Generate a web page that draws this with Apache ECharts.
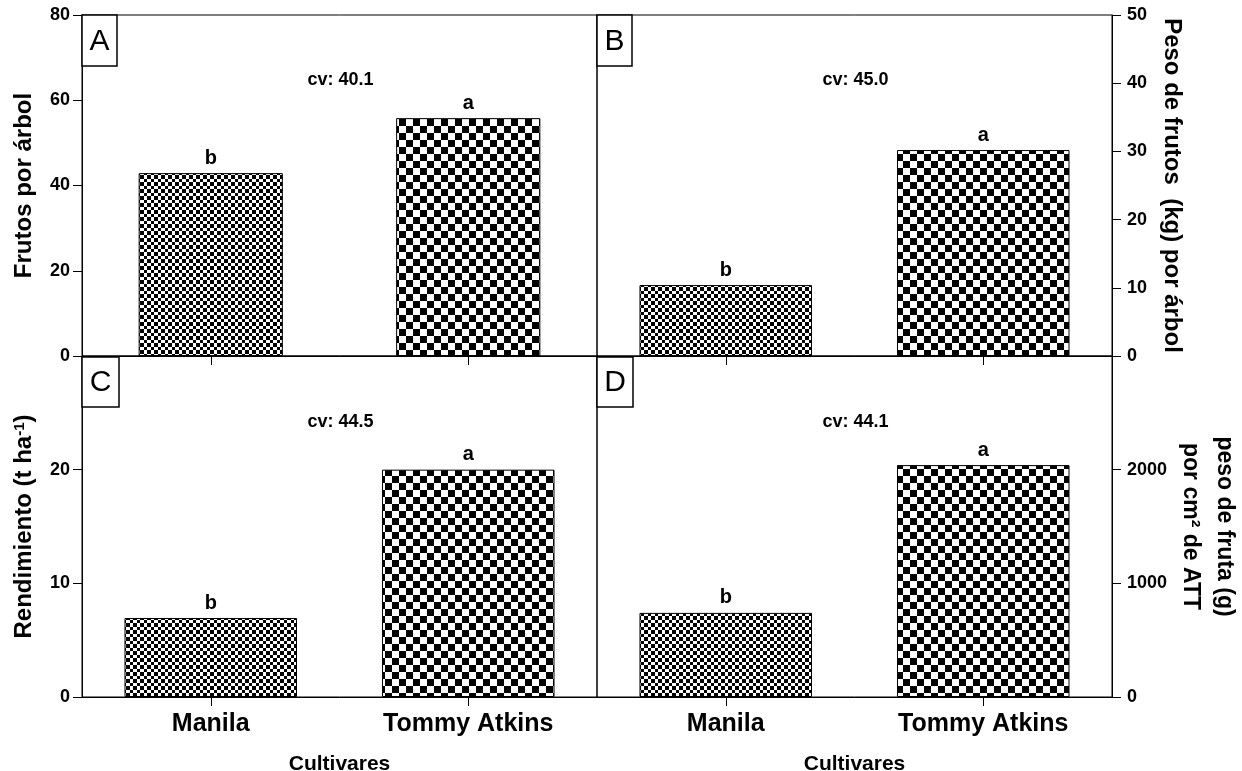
<!DOCTYPE html>
<html>
<head>
<meta charset="utf-8">
<title>Cultivares de mango</title>
<script src="https://cdn.jsdelivr.net/npm/echarts@6/dist/echarts.min.js"></script>
<style>
  html, body { margin: 0; padding: 0; background: #fff; }
  #chart { width: 1242px; height: 771px; }
</style>
</head>
<body>
<div id="chart"></div>
<script>
// Data
const categories = ['Manila', 'Tommy Atkins'];
const frutosPorArbol = [42.9, 55.8];
const pesoFrutosKg = [10.4, 30.2];
const rendimiento = [6.95, 20.0];
const pesoPorCm2 = [740, 2040];
const letras = ['b', 'a'];
const cvA = 'cv: 40.1', cvB = 'cv: 45.0', cvC = 'cv: 44.5', cvD = 'cv: 44.1';

const FONT = 'Arial, "Liberation Sans", Helvetica, sans-serif';

// Checkerboard tile; cell sizes repeat across the tile
function checker(cells) {
  const edges = [0];
  cells.forEach(c => edges.push(edges[edges.length - 1] + c));
  const size = edges[edges.length - 1];
  const cv = document.createElement('canvas');
  cv.width = size; cv.height = size;
  const ctx = cv.getContext('2d');
  ctx.fillStyle = '#fff';
  ctx.fillRect(0, 0, size, size);
  ctx.fillStyle = '#000';
  for (let i = 0; i < cells.length; i++) {
    for (let j = 0; j < cells.length; j++) {
      if ((i + j) % 2 === 0) {
        ctx.fillRect(edges[i], edges[j], cells[i], cells[j]);
      }
    }
  }
  return { image: cv, repeat: 'repeat' };
}
const fine = checker([4, 3, 4, 3]);
const coarse = checker([7, 7]);
const fills = [fine, coarse];

// Panel layout
const L = 82, W = 515, T = 15, H = 341;
const grids = [
  { left: L,     top: T,     width: W, height: H },
  { left: L + W, top: T,     width: W, height: H },
  { left: L,     top: T + H, width: W, height: H },
  { left: L + W, top: T + H, width: W, height: H }
].map(g => Object.assign(g, {
  show: true, borderColor: '#000', borderWidth: 1, backgroundColor: 'transparent',
  containLabel: false, outerBoundsMode: 'none'
}));

const axisLine = { show: true, onZero: false, lineStyle: { color: '#000', width: 1 } };
const tickLabel = { color: '#000', fontWeight: 'bold', fontSize: 18, fontFamily: FONT };

function xAxis(idx, withLabels) {
  return {
    type: 'category', gridIndex: idx, data: categories,
    axisLine: axisLine,
    axisTick: { show: true, alignWithLabel: true, length: 9, lineStyle: { color: '#000' } },
    axisLabel: withLabels
      ? { show: true, margin: 15, color: '#000', fontWeight: 'bold', fontSize: 25, fontFamily: FONT }
      : { show: false },
    name: withLabels ? 'Cultivares' : '',
    nameLocation: 'middle', nameGap: 57,
    nameTextStyle: { color: '#000', fontWeight: 'bold', fontSize: 21, fontFamily: FONT },
    splitLine: { show: false }
  };
}

function yAxis(idx, pos, max, interval, showMax, name, extra) {
  return Object.assign({
    type: 'value', gridIndex: idx, position: pos,
    min: 0, max: max, interval: interval,
    axisLine: axisLine,
    axisTick: { show: true, length: 9, lineStyle: { color: '#000' } },
    axisLabel: Object.assign({
      margin: pos === 'left' ? 12 : 15, showMaxLabel: showMax,
      formatter: v => String(v)
    }, tickLabel),
    splitLine: { show: false },
    name: name, nameLocation: 'middle',
    nameTextStyle: { color: '#000', fontWeight: 'bold', fontSize: 24, fontFamily: FONT }
  }, extra || {});
}

function barSeries(idx, values, width) {
  return {
    type: 'bar', xAxisIndex: idx, yAxisIndex: idx,
    barWidth: width,
    data: values.map((v, i) => ({
      value: v,
      itemStyle: { color: fills[i], borderColor: '#000', borderWidth: 1 },
      label: { formatter: letras[i] }
    })),
    label: {
      show: true, position: 'top', distance: 5,
      color: '#000', fontWeight: 'bold', fontSize: 20, fontFamily: FONT
    },
    silent: true
  };
}

function panelBox(x, y, w, h, letter) {
  return [
    { type: 'rect', shape: { x: x, y: y, width: w, height: h },
      style: { fill: '#fff', stroke: '#000', lineWidth: 1.5 }, z: 100 },
    { type: 'text', x: x + w / 2, y: y + h / 2 + 1,
      style: { text: letter, font: '30px ' + FONT, fill: '#000', align: 'center', verticalAlign: 'middle' }, z: 101 }
  ];
}

function cvText(x, y, text) {
  return { type: 'text', x: x, y: y,
    style: { text: text, font: 'bold 18px ' + FONT, fill: '#000', align: 'center', verticalAlign: 'middle' }, z: 100 };
}

const option = {
  backgroundColor: '#fff',
  animation: false,
  grid: grids,
  xAxis: [xAxis(0, false), xAxis(1, false), xAxis(2, true), xAxis(3, true)],
  yAxis: [
    yAxis(0, 'left', 80, 20, true, 'Frutos por árbol', { nameGap: 46 }),
    yAxis(1, 'right', 50, 10, true, 'Peso de frutos  (kg) por árbol', { nameGap: 48, nameRotate: -90 }),
    yAxis(2, 'left', 30, 10, false, '{n|Rendimiento (t ha}{s|-1}{n|)}', {
      nameGap: 46,
      nameTextStyle: {
        color: '#000', fontWeight: 'bold', fontSize: 24, fontFamily: FONT,
        rich: {
          n: { color: '#000', fontWeight: 'bold', fontSize: 24, fontFamily: FONT },
          s: { color: '#000', fontWeight: 'bold', fontSize: 15, fontFamily: FONT, verticalAlign: 'top', padding: [0, 0, 8, 0] }
        }
      }
    }),
    yAxis(3, 'right', 3000, 1000, false, 'peso de fruta (g)\npor cm² de ATT', {
      nameGap: 61, nameRotate: -90,
      nameTextStyle: { color: '#000', fontWeight: 'bold', fontSize: 23, fontFamily: FONT, lineHeight: 34 }
    })
  ],
  series: [
    barSeries(0, frutosPorArbol, '56%'),
    barSeries(1, pesoFrutosKg, '67%'),
    barSeries(2, rendimiento, '67%'),
    barSeries(3, pesoPorCm2, '67%')
  ],
  graphic: [].concat(
    panelBox(L, T, 35, 51, 'A'),
    panelBox(L + W, T, 35, 51, 'B'),
    panelBox(L, T + H + 1, 37, 50, 'C'),
    panelBox(L + W, T + H + 1, 36, 50, 'D'),
    [
      cvText(L + W / 2 + 1, T + 65, cvA),
      cvText(L + W + W / 2 + 1, T + 65, cvB),
      cvText(L + W / 2 + 1, T + H + 66, cvC),
      cvText(L + W + W / 2 + 1, T + H + 66, cvD)
    ]
  )
};

const chart = echarts.init(document.getElementById('chart'), null, { renderer: 'canvas' });
chart.setOption(option);
</script>
</body>
</html>
